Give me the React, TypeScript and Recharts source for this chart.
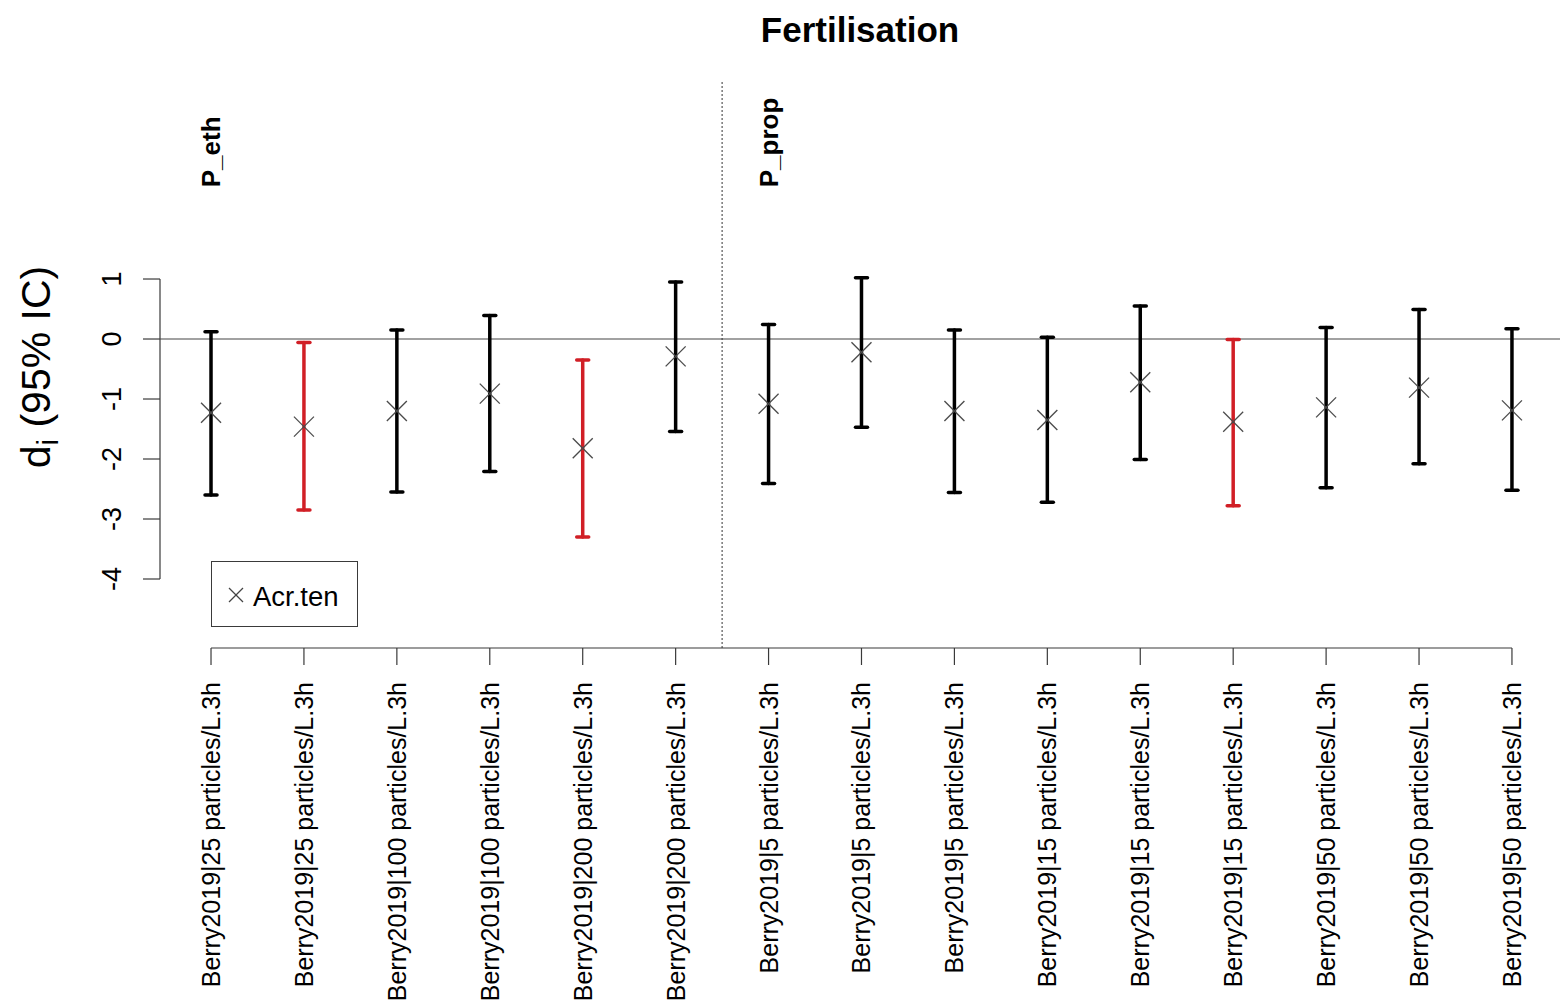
import React from 'react';
import {
  ComposedChart,
  Scatter,
  ErrorBar,
  XAxis,
  YAxis,
  ReferenceLine,
  ReferenceDot,
  Legend,
} from 'recharts';

// categories along the x axis (one per estimate)
const categories = [
  'Berry2019|25 particles/L.3h',
  'Berry2019|25 particles/L.3h',
  'Berry2019|100 particles/L.3h',
  'Berry2019|100 particles/L.3h',
  'Berry2019|200 particles/L.3h',
  'Berry2019|200 particles/L.3h',
  'Berry2019|5 particles/L.3h',
  'Berry2019|5 particles/L.3h',
  'Berry2019|5 particles/L.3h',
  'Berry2019|15 particles/L.3h',
  'Berry2019|15 particles/L.3h',
  'Berry2019|15 particles/L.3h',
  'Berry2019|50 particles/L.3h',
  'Berry2019|50 particles/L.3h',
  'Berry2019|50 particles/L.3h',
];

const estimates = [-1.23, -1.46, -1.2, -0.91, -1.82, -0.29, -1.08, -0.22, -1.2, -1.35, -0.72, -1.38, -1.14, -0.81, -1.19];
const lowerCI = [-2.6, -2.85, -2.55, -2.21, -3.3, -1.54, -2.41, -1.47, -2.56, -2.72, -2.01, -2.78, -2.48, -2.08, -2.52];
const upperCI = [0.12, -0.06, 0.15, 0.39, -0.35, 0.95, 0.24, 1.02, 0.15, 0.03, 0.55, -0.01, 0.19, 0.49, 0.17];
const significant = [false, true, false, false, true, false, false, false, false, false, false, true, false, false, false];

const groupNames = ['P_eth', 'P_prop'];
const groupStarts = [1, 7];
const groupDivider = 6.5;

const yTicks = [-4, -3, -2, -1, 0, 1];
const xTicks = categories.map((_, i) => i + 1);

const W = 1560;
const H = 1005;
const PLOT_LEFT = 160;
const PLOT_TOP = 80;
const PLOT_BOTTOM = 648;
const X_DOMAIN: [number, number] = [0.451, 15.517];
const Y_DOMAIN: [number, number] = [-5.15, 4.317];
const GROUP_LABEL_Y = 2.53;

const FONT = '"Liberation Sans", Arial, sans-serif';
const RED = '#d11f26';
const AXIS = '#3a3a3a';

const rows = estimates.map((y, i) => ({
  x: i + 1,
  y,
  err: [y - lowerCI[i], upperCI[i] - y],
}));
const blackRows = rows.filter((_, i) => !significant[i]);
const redRows = rows.filter((_, i) => significant[i]);

const Cross = (props: any) => {
  const { cx, cy } = props;
  if (cx == null || cy == null) return null;
  const s = 10;
  return (
    <g stroke="#4a4a4a" strokeWidth={1.3}>
      <line x1={cx - s} y1={cy - s} x2={cx + s} y2={cy + s} />
      <line x1={cx - s} y1={cy + s} x2={cx + s} y2={cy - s} />
    </g>
  );
};

const Empty = () => <g />;

const XTick = (props: any) => {
  const { x, payload } = props;
  const label = categories[payload.value - 1];
  const ty = PLOT_BOTTOM + 34;
  return (
    <text
      x={x}
      y={ty}
      transform={`rotate(-90, ${x}, ${ty})`}
      textAnchor="end"
      dominantBaseline="central"
      fontSize={25}
      fontFamily={FONT}
      fill="#000"
    >
      {label}
    </text>
  );
};

const YTick = (props: any) => {
  const { y, payload } = props;
  const tx = PLOT_LEFT - 39;
  return (
    <text
      x={tx}
      y={y}
      transform={`rotate(-90, ${tx}, ${y})`}
      textAnchor="middle"
      fontSize={27}
      fontFamily={FONT}
      fill="#000"
    >
      {payload.value}
    </text>
  );
};

const GroupLabel = (name: string) => (props: any) => {
  const { cx, cy } = props;
  return (
    <text
      x={cx}
      y={cy}
      transform={`rotate(-90, ${cx}, ${cy})`}
      textAnchor="start"
      dominantBaseline="central"
      fontSize={26}
      fontWeight="bold"
      fontFamily={FONT}
      fill="#000"
    >
      {name}
    </text>
  );
};

const renderLegend = () => (
  <svg width={148} height={67} style={{ display: 'block' }}>
    <rect x={0.5} y={0.5} width={146} height={65} fill="#fff" stroke={AXIS} strokeWidth={1} />
    <g stroke="#444" strokeWidth={1.2}>
      <line x1={18} y1={27} x2={32} y2={41} />
      <line x1={18} y1={41} x2={32} y2={27} />
    </g>
    <text x={42} y={45} fontSize={27.5} fontFamily={FONT} fill="#000">
      Acr.ten
    </text>
  </svg>
);

export default function App() {
  return (
    <div style={{ position: 'absolute', left: 0, top: 0, width: W, height: H, background: '#fff' }}>
      <ComposedChart
        width={W}
        height={H}
        margin={{ top: PLOT_TOP, right: 0, bottom: 0, left: 0 }}
      >
        <XAxis
          type="number"
          dataKey="x"
          domain={X_DOMAIN}
          ticks={xTicks}
          interval={0}
          allowDataOverflow
          height={H - PLOT_BOTTOM}
          axisLine={false}
          tickSize={17}
          tickLine={{ stroke: AXIS, strokeWidth: 1.2 }}
          tick={<XTick />}
        />
        <YAxis
          type="number"
          dataKey="y"
          domain={Y_DOMAIN}
          ticks={yTicks}
          interval={0}
          allowDataOverflow
          width={PLOT_LEFT}
          axisLine={false}
          tickSize={17}
          tickLine={{ stroke: AXIS, strokeWidth: 1.2 }}
          tick={<YTick />}
        />

        {/* R-style axis lines only span the tick range */}
        <ReferenceLine
          segment={[{ x: X_DOMAIN[0], y: yTicks[0] }, { x: X_DOMAIN[0], y: yTicks[yTicks.length - 1] }]}
          stroke={AXIS}
          strokeWidth={1.2}
          ifOverflow="visible"
        />
        <ReferenceLine
          segment={[{ x: xTicks[0], y: Y_DOMAIN[0] }, { x: xTicks[xTicks.length - 1], y: Y_DOMAIN[0] }]}
          stroke={AXIS}
          strokeWidth={1.2}
          ifOverflow="visible"
        />

        <ReferenceLine y={0} stroke="#444" strokeWidth={1.2} />
        <ReferenceLine x={groupDivider} stroke="#333" strokeWidth={1} strokeDasharray="2 2" />

        {groupNames.map((name, i) => (
          <ReferenceDot
            key={name}
            x={groupStarts[i]}
            y={GROUP_LABEL_Y}
            r={0}
            ifOverflow="visible"
            shape={GroupLabel(name)}
          />
        ))}

        <Scatter data={blackRows} dataKey="y" name="ci" legendType="none" shape={<Empty />} isAnimationActive={false}>
          <ErrorBar dataKey="err" direction="y" width={6} stroke="#000" strokeWidth={3.5} strokeLinecap="round" isAnimationActive={false} />
        </Scatter>
        <Scatter data={redRows} dataKey="y" name="ci sig" legendType="none" shape={<Empty />} isAnimationActive={false}>
          <ErrorBar dataKey="err" direction="y" width={6} stroke={RED} strokeWidth={3.5} strokeLinecap="round" isAnimationActive={false} />
        </Scatter>
        <Scatter data={rows} dataKey="y" name="Acr.ten" fill="#000" shape={<Cross />} isAnimationActive={false} />

        <Legend
          layout="vertical"
          align="center"
          verticalAlign="middle"
          content={renderLegend}
          wrapperStyle={{ left: 211, top: 561, width: 148, height: 67 }}
        />
      </ComposedChart>

      <svg
        width={W}
        height={H}
        style={{ position: 'absolute', left: 0, top: 0, pointerEvents: 'none' }}
      >
        <text x={860} y={42} textAnchor="middle" fontSize={35} fontWeight="bold" fontFamily={FONT} fill="#000">
          Fertilisation
        </text>
        <text
          x={50}
          y={367}
          transform="rotate(-90, 50, 367)"
          textAnchor="middle"
          fontSize={41}
          fontFamily={FONT}
          fill="#000"
        >
          d
          <tspan fontSize={29} dy={8}>i</tspan>
          <tspan dy={-8}> (95% IC)</tspan>
        </text>
      </svg>
    </div>
  );
}
